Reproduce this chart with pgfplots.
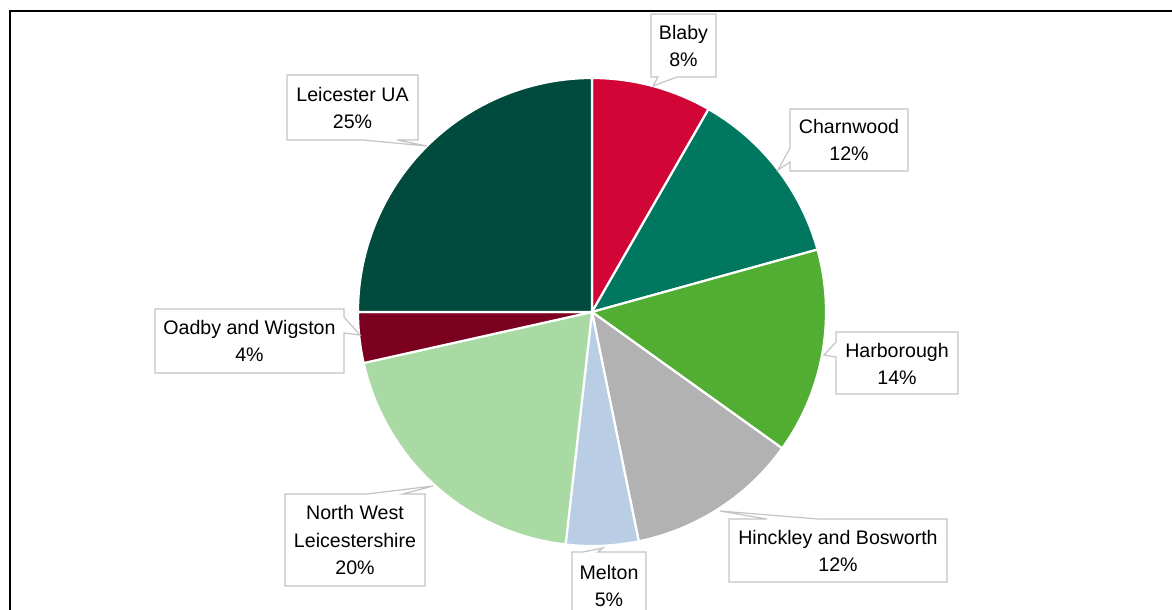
\documentclass[border=0pt]{standalone}
\usepackage{pgfplots}
\usepackage{pgfplotstable}
\pgfplotsset{compat=1.18}
\usepackage{fontspec}
\setmainfont{Liberation Sans}

\definecolor{cBlaby}{HTML}{D20537}
\definecolor{cCharn}{HTML}{00775F}
\definecolor{cHarb}{HTML}{52AE32}
\definecolor{cHinck}{HTML}{B2B2B2}
\definecolor{cMelton}{HTML}{B9CDE5}
\definecolor{cNWL}{HTML}{A9DAA4}
\definecolor{cOadby}{HTML}{7B0020}
\definecolor{cLeic}{HTML}{004B3D}
\definecolor{boxgray}{HTML}{C4C4C4}

% share of each district, clockwise from the top
\pgfplotstableread[col sep=comma]{
name,value,color
Blaby,8.3,cBlaby
Charnwood,12.4,cCharn
Harborough,14.2,cHarb
Hinckley and Bosworth,11.9,cHinck
Melton,5.0,cMelton
North West Leicestershire,19.7,cNWL
Oadby and Wigston,3.5,cOadby
Leicester UA,25.0,cLeic
}\piedata

\begin{document}
\begin{tikzpicture}[font=\fontsize{9.8}{13.8}\selectfont,
  lbl/.style={align=center, inner sep=0pt},
  callout/.style={draw=boxgray, line width=0.6pt, fill=white}]
\path[use as bounding box, clip] (0,0) rectangle (586pt,305pt);
\begin{axis}[
  width=586pt, height=305pt, scale only axis,
  xmin=0, xmax=1172, ymin=0, ymax=610,
  y dir=reverse, hide axis, clip=false]

% pie slices, centre (592,312), radius 234 units = 117pt
\def\cum{0}
\pgfplotstablegetrowsof{\piedata}
\pgfmathtruncatemacro{\nrows}{\pgfplotsretval-1}
\pgfplotsforeachungrouped \i in {0,...,\nrows}{
  \pgfplotstablegetelem{\i}{value}\of\piedata \let\v\pgfplotsretval
  \pgfplotstablegetelem{\i}{color}\of\piedata \let\c\pgfplotsretval
  \pgfmathsetmacro{\a}{90-3.6*\cum}
  \pgfmathsetmacro{\b}{90-3.6*(\cum+\v)}
  \pgfmathsetmacro{\sx}{592+234*cos(\a)}
  \pgfmathsetmacro{\sy}{312-234*sin(\a)}
  \edef\temp{\noexpand\fill[\c, draw=white, line width=1.1pt, line join=round]
    (axis cs:592,312) -- (axis cs:\sx,\sy)
    arc[start angle=\a, end angle=\b, radius=117pt] -- cycle;}
  \temp
  \pgfmathsetmacro{\cum}{\cum+\v}
}

% outer frame
\draw[black, line width=1pt] (axis cs:10,640) -- (axis cs:10,11) -- (axis cs:1200,11);

% callouts
\draw[callout] (axis cs:651,14) -- (axis cs:716,14) -- (axis cs:716,77) -- (axis cs:677,77)
  -- (axis cs:653,86) -- (axis cs:658,77) -- (axis cs:651,77) -- cycle;
\node[lbl] at (axis cs:683.5,46) {Blaby\\8\%};

\draw[callout] (axis cs:790,109) -- (axis cs:908,109) -- (axis cs:908,171) -- (axis cs:790,171)
  -- (axis cs:790,162) -- (axis cs:778,170) -- (axis cs:790,148) -- cycle;
\node[lbl] at (axis cs:849,140) {Charnwood\\12\%};

\draw[callout] (axis cs:836,332) -- (axis cs:958,332) -- (axis cs:958,394) -- (axis cs:836,394)
  -- (axis cs:836,357) -- (axis cs:824,355) -- (axis cs:836,342) -- cycle;
\node[lbl] at (axis cs:897,364) {Harborough\\14\%};

\draw[callout] (axis cs:729,519) -- (axis cs:767,519) -- (axis cs:720,511) -- (axis cs:818,519)
  -- (axis cs:947,519) -- (axis cs:947,582) -- (axis cs:729,582) -- cycle;
\node[lbl] at (axis cs:838,551) {Hinckley and Bosworth\\12\%};

\draw[callout] (axis cs:572,552) -- (axis cs:583,552) -- (axis cs:603,548) -- (axis cs:598,552)
  -- (axis cs:646,552) -- (axis cs:646,640) -- (axis cs:572,640) -- cycle;
\node[lbl] at (axis cs:609,586) {Melton\\5\%};

\draw[callout] (axis cs:285,494) -- (axis cs:367,494) -- (axis cs:433,486) -- (axis cs:403,494)
  -- (axis cs:425,494) -- (axis cs:425,586) -- (axis cs:285,586) -- cycle;
\node[lbl] at (axis cs:355,540) {North West\\Leicestershire\\20\%};

\draw[callout] (axis cs:155,309) -- (axis cs:344,309) -- (axis cs:344,317) -- (axis cs:360,335)
  -- (axis cs:344,333) -- (axis cs:344,373) -- (axis cs:155,373) -- cycle;
\node[lbl] at (axis cs:249.5,341) {Oadby and Wigston\\4\%};

\draw[callout] (axis cs:287,75) -- (axis cs:418,75) -- (axis cs:418,140) -- (axis cs:397,140)
  -- (axis cs:427,146) -- (axis cs:363,140) -- (axis cs:287,140) -- cycle;
\node[lbl] at (axis cs:352.5,108) {Leicester UA\\25\%};

\end{axis}
\end{tikzpicture}
\end{document}
